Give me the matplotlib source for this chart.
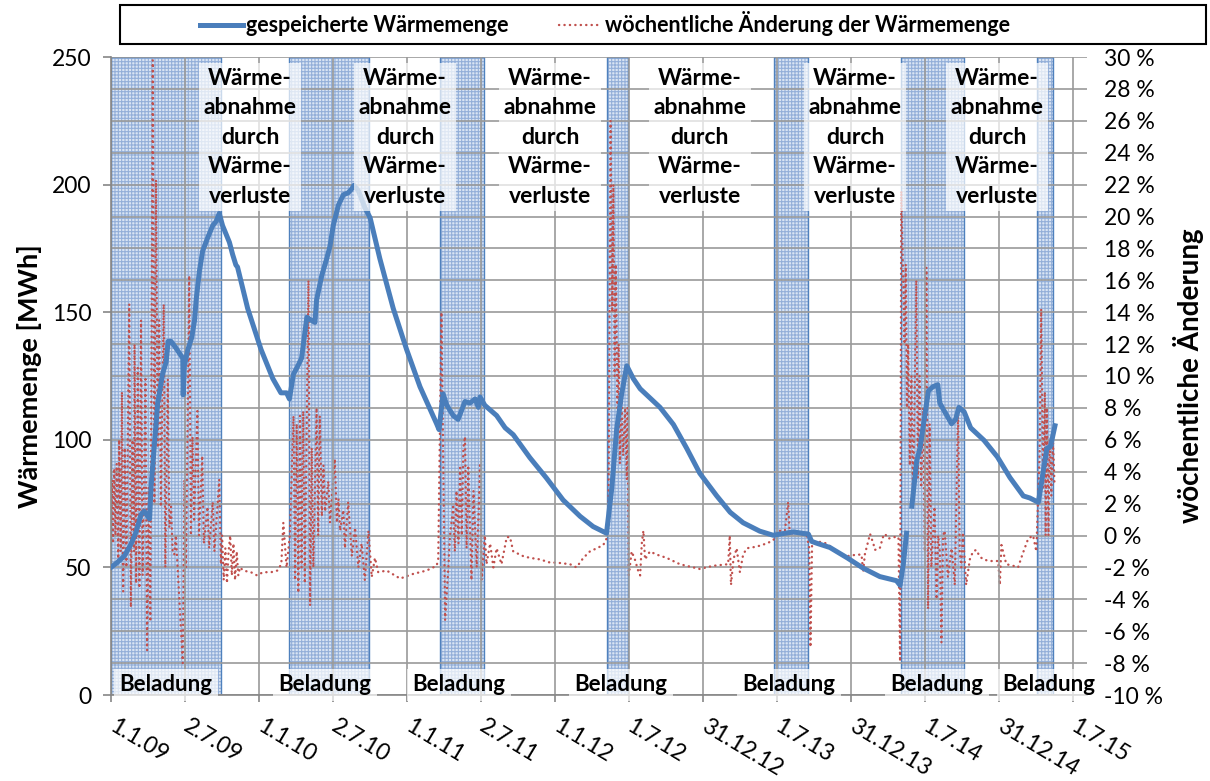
import numpy as np
import matplotlib
matplotlib.use('Agg')
import matplotlib.pyplot as plt
import matplotlib.dates as mdates
from matplotlib.patches import Rectangle
from matplotlib.ticker import MultipleLocator, FuncFormatter

plt.rcParams['font.family'] = ['Lato', 'DejaVu Sans']
plt.rcParams['hatch.linewidth'] = 0.8

# Tage seit dem 1.1.2009
start_date = '2009-01-01'

# Beladungsphasen (Beginn / Ende)
charge_start = ['2009-01-01', '2010-03-16', '2011-03-23', '2012-05-07', '2013-06-24', '2014-05-03', '2015-04-03']
charge_end = ['2009-09-29', '2010-09-29', '2011-07-10', '2012-06-29', '2013-09-16', '2014-10-06', '2015-05-13']

# gespeicherte Waermemenge [MWh]
heat_days = [0, 16, 33, 49, 62, 74, 82, 95, 99, 107, 115, 127, 136, 141, 148, 160, 177, 178, 181, 189,
             199, 206, 210, 218, 226, 238, 251, 259, 267, 275, 292, 300, 308, 312, 337, 370, 399, 419, 433, 440,
             450, 461, 470, 478, 483, 495, 503, 507, 520, 532, 540, 548, 561, 573, 585, 594, 599, 610, 626, 639,
             663, 696, 729, 762, 803, 809, 819, 828, 844, 856, 873, 885, 898, 906, 910, 922, 951, 972, 992, 1033,
             1074, 1115, 1157, 1189, 1222, 1235, 1247, 1259, 1272, 1288, 1305, 1321, 1354, 1387, 1420, 1452, 1494, 1527, 1559, 1600,
             1633, 1683, 1720, 1728, 1740, 1773, 1816, 1855, 1896, 1937, 1946, 1954, 1962, 1968, 1975, 1987, 1995, 2004, 2016, 2027,
             2039, 2044, 2056, 2073, 2083, 2091, 2104, 2120, 2153, 2186, 2217, 2250, 2266, 2287, 2295, 2308, 2317, 2328]
heat_mwh = [50, 52, 54.5, 59, 64, 70.7, 72, 69, 82, 98, 114, 125.7, 130.5, 138.6, 138.6, 136, 132, 117.6, 129, 135,
            140, 146.7, 154.8, 166, 174, 179, 184, 185.5, 188.7, 184, 177.4, 172.6, 168.5, 167.7, 151.5, 135.4, 124, 118.4, 118.4, 116,
            125.7, 129, 132, 141.8, 148, 146.7, 146, 154.8, 164.5, 171, 175.8, 183.9, 192, 196, 196.8, 198.4, 199.7, 197.6, 191, 187,
            171, 151.5, 135.4, 120.8, 106.3, 104, 118, 113.6, 109.5, 108, 115, 114.4, 116, 112.7, 116.8, 113.5, 109.5, 104.7, 102, 93,
            85, 76.4, 70, 66, 63.4, 81, 104, 117.6, 129, 124, 120, 117.6, 112.7, 106, 96.6, 86.9, 78, 71.6, 67.5, 64.2,
            62.6, 63.9, 63, 60.2, 59.5, 57.8, 53.7, 49.7, 46.4, 44.8, 43, 51.3, 63.4, np.nan, 74, 91.7, 96.6, 106.3, 119.2, 120.8,
            121.6, 114.4, 111, 106.3, 108, 112.7, 111, 104.7, 99.8, 93.3, 85.2, 78, 77.2, 75.5, 83.6, 96.6, 97.4, 105.5]

# woechentliche Aenderung der Waermemenge [%]
change_days = [0, 3, 5, 8, 11, 14, 18, 20, 24, 27, 30, 34, 38, 45, 49, 53, 57, 58, 62, 66,
               70, 74, 78, 85, 89, 93, 97, 103, 107, 111, 115, 119, 123, 130, 134, 140, 144, 148, 152, 156,
               160, 177, 181, 185, 193, 197, 201, 205, 213, 217, 225, 229, 238, 242, 251, 255, 267, 271, 274, 278,
               282, 286, 290, 294, 298, 302, 306, 310, 314, 318, 326, 345, 360, 375, 395, 410, 420, 425, 433, 441,
               450, 454, 458, 462, 466, 470, 474, 478, 487, 491, 495, 499, 507, 511, 515, 520, 524, 528, 536, 540,
               552, 557, 561, 565, 573, 577, 585, 594, 602, 610, 618, 626, 635, 643, 651, 659, 680, 713, 746, 778,
               803, 807, 815, 824, 832, 836, 844, 848, 852, 857, 861, 865, 869, 873, 877, 881, 889, 894, 902, 910,
               914, 922, 926, 935, 943, 951, 963, 976, 984, 992, 1017, 1033, 1058, 1083, 1099, 1132, 1148, 1165, 1181, 1198,
               1214, 1222, 1227, 1232, 1236, 1239, 1242, 1245, 1249, 1252, 1255, 1259, 1263, 1268, 1272, 1274, 1277, 1284, 1292, 1300,
               1305, 1309, 1313, 1317, 1329, 1346, 1370, 1403, 1436, 1452, 1485, 1522, 1526, 1529, 1535, 1543, 1551, 1559, 1568, 1592,
               1617, 1633, 1650, 1662, 1670, 1674, 1683, 1699, 1716, 1722, 1725, 1729, 1748, 1765, 1790, 1814, 1839, 1851, 1855, 1859,
               1872, 1880, 1884, 1896, 1905, 1909, 1917, 1929, 1942, 1946, 1949, 1957, 1960, 1963, 1966, 1970, 1974, 1978, 1986, 1990,
               1994, 1998, 2003, 2007, 2011, 2015, 2019, 2023, 2031, 2036, 2040, 2044, 2048, 2052, 2056, 2064, 2073, 2081, 2089, 2093,
               2097, 2101, 2109, 2118, 2126, 2134, 2142, 2151, 2167, 2188, 2192, 2196, 2208, 2225, 2237, 2249, 2262, 2274, 2282, 2290,
               2294, 2299, 2303, 2305, 2308, 2312, 2315, 2319, 2323, 2327]
change_pct = [0.5, 3.5, -0.5, 4.2, 0, 4.5, -1.8, 6, -1, 9, -3.5, 5.5, -2, 14.5, -4.5, 6, -1, 12, -3, 10.5,
              -3.3, 13.5, -2.5, 9.8, -7.2, 3, -5.4, 29.8, 2, 22.3, 5.5, 13.5, 1.8, 14.5, -2, 9.8, 0.5, 1.8, -1, -1.2,
              0, -8, 3.5, -2, 16.3, 0, 6.2, 1, 7.8, 0, 5, -0.5, 1.8, -0.8, 2.1, -1, 3.5, -1.8, 0, -2.8,
              -0.8, -3, -1, 0, -2.5, -0.5, -2.8, -1, -2.5, -2, -2.2, -2.3, -2.5, -2.3, -2.3, -2.2, -1.8, 0.8, -2, 0,
              7.5, -2.8, 7, -3.6, 7.5, -2, 7.8, -3, 16, -4.4, 5.5, -2, 8, 0, 7.5, 1.2, 4.4, 1.5, 3.4, 0.8,
              4.8, 0.8, 2.3, 0.3, 1.6, -0.8, 2.1, -1.3, 0.5, -2, -0.5, -2.8, 0.3, -2.6, -1.4, -2.3, -2.2, -2.7, -2.4, -2.2,
              -1.9, -1.5, 14, -5.3, -2, 0, 1.8, -1, 2.8, -0.5, 4.4, 0, 5.5, 6.2, -0.8, 4.4, -2.8, 2.8, -2, 4.4,
              -2.8, 0, -1.8, -0.5, -2, -0.8, -1.8, -0.1, -0.1, -1, -1.3, -1.4, -1.5, -1.7, -1.7, -1.8, -2.0, -1.4, -1.0, -0.8,
              -0.6, -0.2, 2, 26, 14, 22, 10, 17, 8, 12, 4.5, 9, 5, 8, 3.5, 8, -2.5, -1, -1.5, -2.2,
              -2.5, -0.5, 0.3, -1.5, -1, -1.2, -1.4, -1.8, -2, -2.1, -1.9, -1.8, 0, -3.1, -1.5, -0.8, -2.3, -1.2, -0.8, -0.7,
              -0.5, -0.3, 0.3, 0.3, 2.1, 0, 0.2, 0.1, 0, -0.8, -7, -0.5, -0.4, -0.5, -1, -1.3, -1.2, -1.2, -2.3, -1.2,
              0.1, -0.5, -0.9, -0.8, 0, 0.1, -0.2, -0.1, -0.1, -7.9, 21.6, 12, 17, 8, 12, 4.4, 10, 2, 16, 3.6,
              10, 3, 8, -1, 16.8, -4.6, 7, -2, 1.8, -4, 0, -1, -6.7, 0, 0.3, -2.6, -0.8, -3.1, 7.8, -1,
              -2, 0.2, -3.1, -1.5, -1, -0.9, -1.3, -1.5, -1.6, -1.6, -3.1, -0.6, -1.8, -1.9, -2, -1.1, -0.2, 0, -1, 5,
              14.2, 3, 9, 0, 8, 0, 6, 2.5, 6, 3.1]

tick_dates = ['2009-01-01', '2009-07-02', '2010-01-01', '2010-07-02', '2011-01-01', '2011-07-02', '2012-01-01',
              '2012-07-01', '2012-12-31', '2013-07-01', '2013-12-31', '2014-07-01', '2014-12-31', '2015-07-01']
tick_labels = ['1.1.09', '2.7.09', '1.1.10', '2.7.10', '1.1.11', '2.7.11', '1.1.12',
               '1.7.12', '31.12.12', '1.7.13', '31.12.13', '1.7.14', '31.12.14', '1.7.15']

loss_text = 'Wärme-\nabnahme\ndurch\nWärme-\nverluste'
loss_days = [343, 725, 1083, 1452, 1835, 2185]
charge_label_days = [136, 528, 858, 1258, 1672, 2037, 2313]

d0 = mdates.date2num(np.datetime64(start_date))
to_num = lambda ds: mdates.date2num(np.array(ds, dtype='datetime64[D]'))

fig = plt.figure(figsize=(12.1, 7.81), dpi=100)
ax = fig.add_axes([111 / 1210, 1 - 695 / 781, (1087 - 111) / 1210, (695 - 57) / 781])
axr = ax.twinx()
ax.set_zorder(axr.get_zorder() + 1)
ax.patch.set_visible(False)

# Beladungsphasen
for s, e in zip(to_num(charge_start), to_num(charge_end)):
    axr.axvspan(s, e, facecolor='#d9e4f3', edgecolor='#93afd9', hatch='+++++', lw=0, zorder=0.2)
    axr.axvspan(s, e, fill=False, edgecolor='#4f81bd', lw=1.0, zorder=0.3)

line_red, = axr.plot(d0 + np.array(change_days, float), change_pct, color='#c0504d', lw=1.7,
                     linestyle=(0, (0.1, 2.2)), dash_capstyle='round', zorder=2,
                     label='wöchentliche Änderung der Wärmemenge')
line_blue, = ax.plot(d0 + np.array(heat_days, float), heat_mwh, color='#4a7ebb', lw=3.6,
                     solid_joinstyle='round', zorder=3, label='gespeicherte Wärmemenge')

ax.set_xlim(d0, d0 + 2407)
ax.set_ylim(0, 250)
axr.set_ylim(-10, 30)

ax.yaxis.set_major_locator(MultipleLocator(50))
axr.yaxis.set_major_locator(MultipleLocator(2))
axr.yaxis.set_major_formatter(FuncFormatter(lambda v, p: f'{v:.0f} %'))
ax.set_xticks(to_num(tick_dates))
ax.set_xticklabels(tick_labels)

axr.set_axisbelow(True)
ax.set_axisbelow(True)
axr.grid(axis='y', color='#9a9a9a', lw=1.2)
ax.grid(axis='x', color='#9a9a9a', lw=1.2)

for a in (ax, axr):
    for sp in ('top', 'right'):
        a.spines[sp].set_visible(False)
axr.spines['left'].set_visible(False)
axr.spines['bottom'].set_visible(False)
ax.spines['left'].set_color('#868686')
ax.spines['bottom'].set_color('#868686')
ax.spines['left'].set_linewidth(1.2)
ax.spines['bottom'].set_linewidth(1.2)

ax.tick_params(axis='y', labelsize=16.5, length=6, width=1.2, color='#868686', pad=8)
ax.tick_params(axis='x', labelsize=16.5, length=5, width=1.2, color='#868686', pad=16)
axr.tick_params(axis='y', labelsize=16.5, length=0, pad=12)
plt.setp(ax.get_xticklabels(), rotation=-31, ha='left', va='center', rotation_mode='anchor')

ax.set_ylabel('Wärmemenge [MWh]', fontsize=19.5, fontweight='bold')
ax.yaxis.set_label_coords(-0.071, 0.5)
axr.set_ylabel('wöchentliche Änderung', fontsize=20, fontweight='bold')
axr.yaxis.set_label_coords(1.088, 0.5)

for d in loss_days:
    ax.text(d0 + d, 218.5, loss_text, ha='center', va='center', fontsize=16.5, fontweight='bold',
            linespacing=1.5, zorder=5,
            bbox=dict(boxstyle='square,pad=0.2', facecolor='white', alpha=0.7, edgecolor='none'))
for d in charge_label_days:
    ax.text(d0 + d, 4, 'Beladung', ha='center', va='center', fontsize=16, fontweight='bold', zorder=5,
            bbox=dict(boxstyle='square,pad=0.25', facecolor='white', alpha=0.7, edgecolor='none'))

fig.patches.append(Rectangle((120 / 1210, 1 - 44 / 781), (1206 - 120) / 1210, (44 - 5) / 781,
                             transform=fig.transFigure, fill=False, edgecolor='black', lw=1.5))
fig.legend(handles=[line_blue, line_red], loc='center', bbox_to_anchor=(605 / 1210, 1 - 24 / 781),
           ncol=2, frameon=False, columnspacing=2.3, handlelength=2.0, handletextpad=0.15,
           prop={'size': 15.5, 'weight': 'bold'})

fig.savefig('out.png', dpi=100)
